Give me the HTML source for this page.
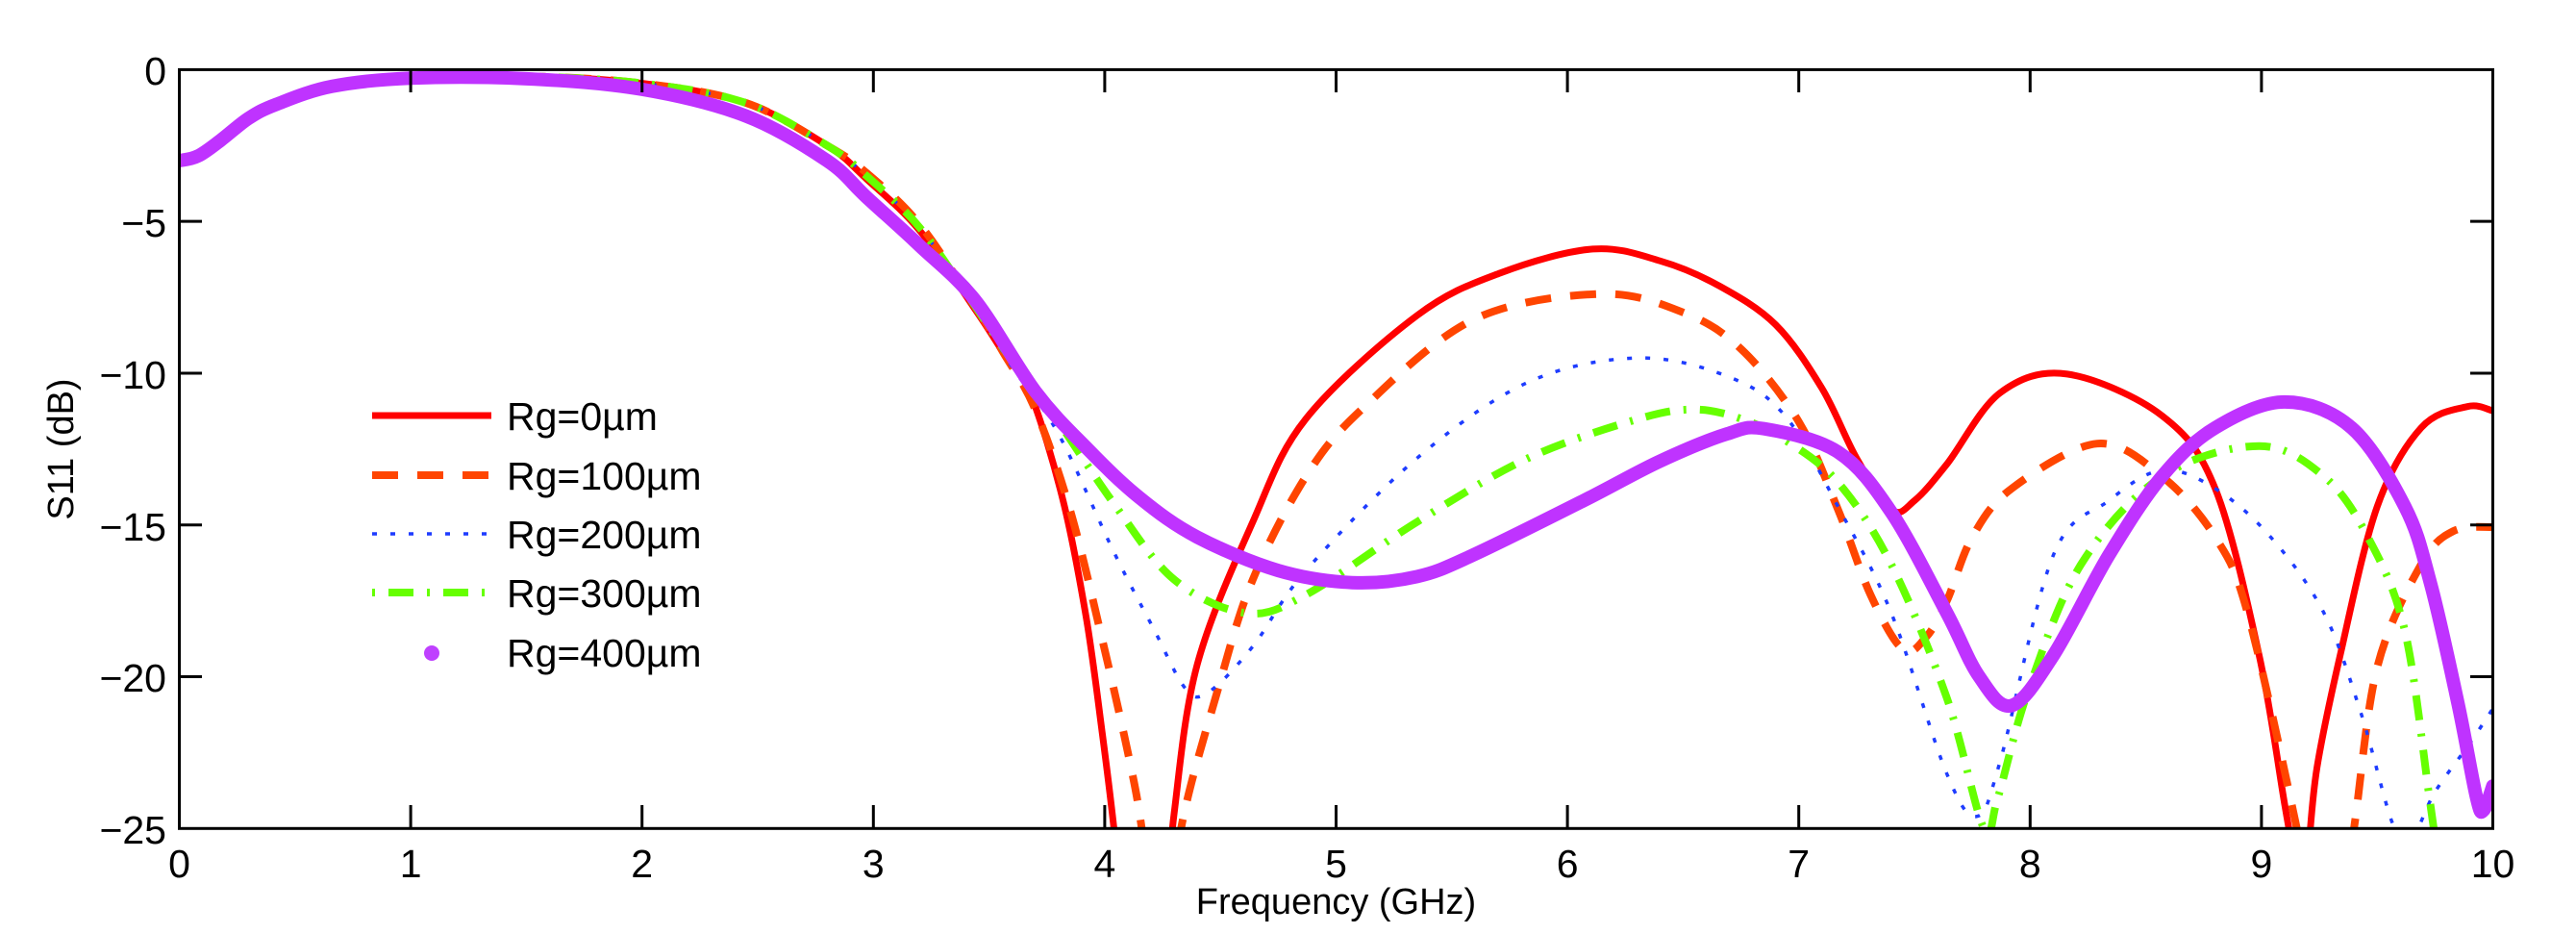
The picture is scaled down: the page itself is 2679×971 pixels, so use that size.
<!DOCTYPE html>
<html><head><meta charset="utf-8"><style>
html,body{margin:0;padding:0;background:#fff;overflow:hidden;width:2679px;height:971px;}
svg{display:block;position:absolute;left:0;top:0;}
text{font-family:"Liberation Sans",Arial,sans-serif;fill:#000;}
</style></head><body>
<svg id="s" width="2679" height="971" viewBox="0 0 2679 971" xmlns="http://www.w3.org/2000/svg">
<defs><clipPath id="c"><rect x="186.5" y="72.4" width="2406" height="788.9"/></clipPath></defs>
<rect width="2679" height="971" fill="#fff"/>
<g id="curves" clip-path="url(#c)" fill="none" stroke-linejoin="round"></g>
<g stroke="#000" stroke-width="3" fill="none">
<rect x="186.5" y="72.4" width="2406" height="788.9"/>
</g>
<g id="ticks" stroke="#000" stroke-width="3"></g>
<g font-size="41" text-anchor="middle">
<text x="186.5" y="912">0</text><text x="427.1" y="912">1</text><text x="667.7" y="912">2</text><text x="908.3" y="912">3</text><text x="1148.9" y="912">4</text><text x="1389.5" y="912">5</text><text x="1630.1" y="912">6</text><text x="1870.7" y="912">7</text><text x="2111.3" y="912">8</text><text x="2351.9" y="912">9</text><text x="2592.5" y="912">10</text>
<text x="1389.5" y="950" font-size="38">Frequency (GHz)</text>
</g>
<g font-size="41" text-anchor="end">
<text x="173" y="88">0</text><text x="173" y="246">−5</text><text x="173" y="404">−10</text><text x="173" y="562">−15</text><text x="173" y="719">−20</text><text x="173" y="877">−25</text>
</g>
<text font-size="38" text-anchor="middle" transform="translate(76,467) rotate(-90)">S11 (dB)</text>
<g font-size="41">
<line x1="387" y1="432" x2="511" y2="432" stroke="#ff0000" stroke-width="7"/>
<text x="527" y="447">Rg=0µm</text>
<line x1="387" y1="494" x2="511" y2="494" stroke="#ff4500" stroke-width="8" stroke-dasharray="27,20"/>
<text x="527" y="509">Rg=100µm</text>
<line x1="387" y1="555" x2="511" y2="555" stroke="#1e3cff" stroke-width="3.5" stroke-dasharray="5,14"/>
<text x="527" y="570">Rg=200µm</text>
<line x1="387" y1="616" x2="511" y2="616" stroke="#66ff00" stroke-width="8" stroke-dasharray="3,14,26,14"/>
<text x="527" y="631">Rg=300µm</text>
<circle cx="449" cy="679" r="8" fill="#bf40ff"/>
<text x="527" y="693">Rg=400µm</text>
</g>
</svg>
<script>
var X=function(g){return 186.5+g*240.6;},Y=function(d){return 72.4-d*31.556;};
var tk=document.getElementById('ticks'),h='';
for(var i=1;i<10;i++){var x=X(i);h+='<line x1="'+x+'" y1="861.3" x2="'+x+'" y2="837"/><line x1="'+x+'" y1="72.4" x2="'+x+'" y2="96"/>';}
for(var j=1;j<5;j++){var y=Y(-5*j);h+='<line x1="186.5" y1="'+y+'" x2="210" y2="'+y+'"/><line x1="2592.5" y1="'+y+'" x2="2569" y2="'+y+'"/>';}
tk.innerHTML=h;
var common=[[0,-3.0],[0.08,-2.85],[0.18,-2.32],[0.3,-1.6],[0.42,-1.1],[0.66,-0.5],[1,-0.24],[1.5,-0.22],[2,-0.45],[2.45,-1.1],[2.8,-2.5]];
var purpleStart=[[0,-3.0],[0.08,-2.85],[0.18,-2.32],[0.3,-1.6],[0.42,-1.14],[0.66,-0.55],[1,-0.28],[1.5,-0.3],[2,-0.65],[2.45,-1.53],[2.8,-3.0]];
var S={
red:common.concat([[2.97,-3.6],[3.2,-5.3],[3.44,-7.9],[3.56,-9.3],[3.68,-10.7],[3.82,-14.2],[3.92,-18.06],[3.99,-21.9],[4.04,-25],[4.08,-28],[4.2,-31],[4.26,-28],[4.3,-24.5],[4.4,-19.6],[4.64,-14.9],[4.87,-11.5],[5.35,-8.1],[5.71,-6.7],[6.11,-5.91],[6.4,-6.3],[6.65,-7.1],[6.9,-8.4],[7.1,-10.5],[7.25,-12.8],[7.40,-14.5],[7.5,-14.2],[7.64,-13.0],[7.87,-10.65],[8.16,-10.03],[8.57,-11.4],[8.8,-13.8],[8.99,-19.3],[9.1,-24.2],[9.14,-26],[9.17,-28],[9.2,-26],[9.24,-23],[9.34,-19.3],[9.5,-14.4],[9.69,-11.8],[9.89,-11.1],[10,-11.24]]),
orange:common.concat([[2.97,-3.4],[3.2,-5.1],[3.44,-7.8],[3.56,-9.3],[3.7,-11.2],[3.85,-14.5],[3.99,-18.8],[4.1,-22.5],[4.16,-25],[4.22,-29],[4.28,-29],[4.33,-25],[4.49,-20.4],[4.64,-16.8],[4.87,-13.4],[5.11,-11.2],[5.59,-8.25],[6.14,-7.39],[6.5,-8.0],[6.75,-9.2],[7.0,-11.6],[7.17,-14.5],[7.31,-17.3],[7.45,-19.1],[7.55,-18.7],[7.64,-17.5],[7.75,-15.4],[7.92,-13.8],[8.29,-12.32],[8.57,-13.4],[8.8,-15.4],[8.94,-17.9],[9.15,-24.9],[9.22,-28],[9.32,-29],[9.4,-25],[9.5,-19.7],[9.69,-16.3],[9.83,-15.2],[10,-15.07]]),
blue:common.concat([[2.97,-3.5],[3.2,-5.2],[3.44,-7.8],[3.6,-9.8],[3.80,-12.0],[4.04,-15.9],[4.21,-18.4],[4.35,-20.4],[4.45,-20.5],[4.64,-19.0],[4.87,-16.5],[5.35,-12.8],[5.83,-10.3],[6.3,-9.5],[6.69,-10.1],[6.94,-11.4],[7.17,-14.4],[7.40,-17.9],[7.64,-23.2],[7.77,-24.6],[7.87,-22.8],[8.10,-16.0],[8.34,-14.2],[8.57,-13.2],[8.8,-13.8],[9.04,-15.4],[9.27,-17.9],[9.43,-21.2],[9.57,-24.9],[9.65,-25.3],[9.75,-23.8],[9.9,-22.2],[10,-21.05]]),
green:common.concat([[2.97,-3.5],[3.2,-5.2],[3.44,-7.8],[3.6,-9.6],[3.75,-11.05],[4.04,-14.3],[4.30,-16.8],[4.61,-17.9],[4.87,-17.3],[5.35,-14.9],[5.83,-12.8],[6.31,-11.5],[6.55,-11.2],[6.75,-11.5],[6.94,-12.2],[7.17,-13.6],[7.40,-16.3],[7.64,-20.7],[7.80,-25],[7.86,-24],[7.99,-20.5],[8.22,-16.3],[8.57,-13.4],[8.99,-12.4],[9.27,-13.4],[9.46,-15.4],[9.62,-18.5],[9.73,-24.2],[9.8,-28],[9.9,-32]]),
purple:purpleStart.concat([[2.97,-4.2],[3.2,-5.8],[3.44,-7.6],[3.7,-10.6],[3.92,-12.45],[4.15,-14.1],[4.40,-15.4],[4.75,-16.5],[5.07,-16.9],[5.35,-16.7],[5.59,-16.0],[6.07,-14.2],[6.4,-12.9],[6.69,-12.0],[6.85,-11.83],[7.17,-12.6],[7.40,-14.58],[7.64,-17.9],[7.78,-20.0],[7.92,-20.95],[8.10,-19.3],[8.34,-16.0],[8.57,-13.4],[8.8,-11.8],[9.10,-10.95],[9.39,-11.8],[9.62,-14.4],[9.73,-16.9],[9.85,-20.9],[9.93,-24.0],[9.96,-24.4],[10,-23.6]])
};
function path(p){var q=p.map(function(a){return [X(a[0]),Y(a[1])];});var d='M'+q[0][0].toFixed(1)+','+q[0][1].toFixed(1);
for(var i=0;i<q.length-1;i++){var p0=q[Math.max(0,i-1)],p1=q[i],p2=q[i+1],p3=q[Math.min(q.length-1,i+2)];
var c1x=p1[0]+(p2[0]-p0[0])/6,c1y=p1[1]+(p2[1]-p0[1])/6,c2x=p2[0]-(p3[0]-p1[0])/6,c2y=p2[1]-(p3[1]-p1[1])/6;
d+='C'+c1x.toFixed(1)+','+c1y.toFixed(1)+' '+c2x.toFixed(1)+','+c2y.toFixed(1)+' '+p2[0].toFixed(1)+','+p2[1].toFixed(1);}return d;}
var st={red:'stroke="#ff0000" stroke-width="7"',orange:'stroke="#ff4500" stroke-width="8" stroke-dasharray="27,20"',blue:'stroke="#1e3cff" stroke-width="3.5" stroke-dasharray="5,14"',green:'stroke="#66ff00" stroke-width="8" stroke-dasharray="3,14,26,14"',purple:'stroke="#bf33ff" stroke-width="14" stroke-linecap="round"'};
var g='';['red','orange','blue','green','purple'].forEach(function(k){g+='<path d="'+path(S[k])+'" '+st[k]+'/>';});
document.getElementById('curves').innerHTML=g;
</script>
</body></html>
